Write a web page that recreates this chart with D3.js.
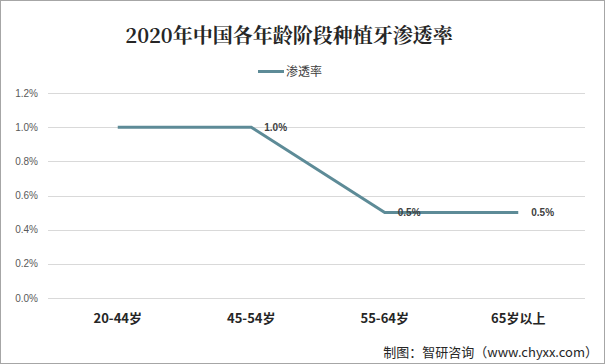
<!DOCTYPE html>
<html>
<head>
<meta charset="utf-8">
<script src="https://cdn.jsdelivr.net/npm/d3@7"></script>
<style>
  html, body { margin: 0; padding: 0; background: #fff; }
  svg { display: block; }
</style>
</head>
<body>
<div id="chart"></div>
<script>
var categories = ["20-44岁", "45-54岁", "55-64岁", "65岁以上"];
var values = [1.0, 1.0, 0.5, 0.5];
var labelShown = [false, true, true, true];
var yTicks = [0, 0.2, 0.4, 0.6, 0.8, 1.0, 1.2];
var seriesName = "渗透率";

var W = 605, H = 364;
var lineColor = "#5d8b97";

var svg = d3.select("#chart").append("svg")
  .attr("width", W).attr("height", H);

svg.append("rect")
  .attr("x", 0.5).attr("y", 0.5)
  .attr("width", W - 1).attr("height", H - 1)
  .attr("fill", "#fff").attr("stroke", "#a6a6a6");

var x = d3.scaleBand().domain(categories).range([51, 585]);
var y = d3.scaleLinear().domain([0, 1.2]).range([298, 93]);

// gridlines
svg.append("g")
  .selectAll("line")
  .data(yTicks)
  .enter()
  .append("line")
  .attr("x1", 48).attr("x2", 585)
  .attr("y1", (d) => Math.round(y(d)) + 0.5)
  .attr("y2", (d) => Math.round(y(d)) + 0.5)
  .attr("stroke", "#d9d9d9").attr("stroke-width", 1);

// y axis labels
svg.append("g")
  .selectAll("text")
  .data(yTicks)
  .enter()
  .append("text")
  .attr("x", 38)
  .attr("y", (d) => y(d))
  .attr("dy", "0.35em")
  .attr("text-anchor", "end")
  .style("font-family", "'Liberation Sans', Arial, sans-serif")
  .style("font-size", "10px")
  .attr("fill", "#595959")
  .text((d) => d.toFixed(1) + "%");

// x axis labels
svg.append("g")
  .selectAll("text")
  .data(categories)
  .enter()
  .append("text")
  .attr("x", (d) => x(d) + x.bandwidth() / 2)
  .attr("y", 323)
  .attr("text-anchor", "middle")
  .style("font-family", "'Noto Sans CJK SC', sans-serif")
  .style("font-size", "13px")
  .style("font-weight", "bold")
  .attr("fill", "#262626")
  .text((d) => d);

// line
var line = d3.line()
  .x((d, i) => x(categories[i]) + x.bandwidth() / 2)
  .y((d) => y(d));

svg.append("path")
  .datum(values)
  .attr("d", line)
  .attr("fill", "none")
  .attr("stroke", lineColor)
  .attr("stroke-width", 3);

// data labels
svg.append("g")
  .selectAll("text")
  .data(values)
  .enter()
  .append("text")
  .attr("x", (d, i) => x(categories[i]) + x.bandwidth() / 2 + 13)
  .attr("y", (d) => y(d))
  .attr("dy", "0.35em")
  .style("font-family", "'Liberation Sans', Arial, sans-serif")
  .style("font-size", "10px")
  .style("font-weight", "bold")
  .attr("fill", "#404040")
  .text((d, i) => labelShown[i] ? d.toFixed(1) + "%" : null);

// title
svg.append("text")
  .attr("x", 289)
  .attr("y", 43)
  .attr("text-anchor", "middle")
  .style("font-family", "'Noto Serif CJK SC', 'Noto Sans CJK SC', serif")
  .style("font-size", "20px")
  .style("font-weight", "bold")
  .attr("fill", "#262626")
  .text("2020年中国各年龄阶段种植牙渗透率");

// legend
svg.append("line")
  .attr("x1", 258).attr("x2", 284)
  .attr("y1", 71.5).attr("y2", 71.5)
  .attr("stroke", lineColor).attr("stroke-width", 3);
svg.append("text")
  .attr("x", 286).attr("y", 72)
  .attr("dy", "0.35em")
  .style("font-family", "'Noto Sans CJK SC', sans-serif")
  .style("font-size", "12px")
  .attr("fill", "#404040")
  .text(seriesName);

// source
svg.append("text")
  .attr("x", 598).attr("y", 357)
  .attr("text-anchor", "end")
  .style("font-family", "'Noto Sans CJK SC', sans-serif")
  .style("font-size", "13px")
  .attr("fill", "#262626")
  .text("制图：智研咨询（www.chyxx.com）");
</script>
</body>
</html>
